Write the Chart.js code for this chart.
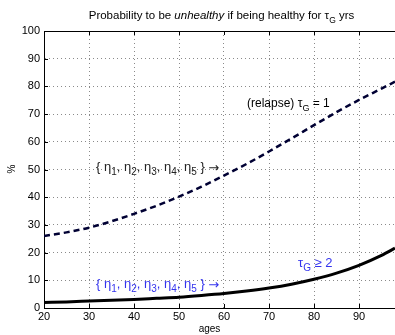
<!DOCTYPE html>
<html>
<head>
<meta charset="utf-8">
<script src="https://cdn.jsdelivr.net/npm/chart.js@4"></script>
<style>
  html, body { margin: 0; padding: 0; background: #fff; }
  #wrap { width: 395px; height: 335px; }
</style>
</head>
<body>
<div id="wrap"><canvas id="chart" width="395" height="335"></canvas></div>
<script>
// ages and the two curves
const ages = [20, 25, 30, 35, 40, 45, 50, 55, 60, 65, 70, 75, 80, 85, 90, 95, 98];
const relapse = [26, 27.3, 29, 31.3, 34, 36.9, 40.2, 43.8, 47.8, 52, 56.5, 61.2, 66, 70.7, 75.1, 79.2, 81.7];
const healthy = [2.0, 2.2, 2.5, 2.8, 3.1, 3.5, 3.9, 4.5, 5.2, 6.1, 7.2, 8.6, 10.4, 12.6, 15.4, 19.0, 21.6];
const xTicks = [20, 30, 40, 50, 60, 70, 80, 90];
const yTicks = [0, 10, 20, 30, 40, 50, 60, 70, 80, 90, 100];

const FONT = 'Liberation Sans, Arial, sans-serif';

function pts(xs, ys) {
    let out = [];
    for (let i = 0; i < xs.length; i++) {
        out.push({ x: xs[i], y: ys[i] });
    }
    return out;
}

// draws text pieces in a row, some with subscript
function drawRich(ctx, parts, x, y, align) {
    let total = 0;
    parts.forEach(p => {
        ctx.font = p.font;
        p.w = ctx.measureText(p.t).width;
        total += p.w;
    });
    let cx = align === 'center' ? x - total / 2 : x;
    parts.forEach(p => {
        ctx.font = p.font;
        ctx.fillStyle = p.color;
        ctx.textAlign = 'left';
        ctx.textBaseline = 'alphabetic';
        ctx.fillText(p.t, cx, y + (p.dy || 0));
        cx += p.w;
    });
}

function etaParts(color) {
    const f = '13px ' + FONT, s = '10px ' + FONT;
    let parts = [{ t: '{ ', font: f, color: color }];
    for (let i = 1; i <= 5; i++) {
        parts.push({ t: 'η', font: f, color: color });
        parts.push({ t: String(i), font: s, color: color, dy: 4 });
        parts.push({ t: i < 5 ? ', ' : ' } ', font: f, color: color });
    }
    parts.push({ t: '→', font: '13px DejaVu Sans', color: color, dy: 1 });
    return parts;
}

const extras = {
    id: 'extras',
    afterDraw(chart) {
        const ctx = chart.ctx;
        const a = chart.chartArea;
        const xs = chart.scales.x, ys = chart.scales.y;
        ctx.save();
        // box and inward ticks
        ctx.strokeStyle = '#000';
        ctx.lineWidth = 1;
        ctx.beginPath();
        ctx.moveTo(a.left, a.top + 0.5);
        ctx.lineTo(a.right, a.top + 0.5);
        xTicks.forEach(v => {
            const px = Math.round(xs.getPixelForValue(v)) + 0.5;
            ctx.moveTo(px, a.bottom);
            ctx.lineTo(px, a.bottom - 4);
            ctx.moveTo(px, a.top);
            ctx.lineTo(px, a.top + 4);
        });
        yTicks.forEach(v => {
            const py = Math.round(ys.getPixelForValue(v)) + 0.5;
            ctx.moveTo(a.left, py);
            ctx.lineTo(a.left + 4, py);
        });
        ctx.stroke();

        // title
        const f = '11.5px ' + FONT;
        drawRich(ctx, [
            { t: 'Probability to be ', font: f, color: '#000' },
            { t: 'unhealthy', font: 'italic ' + f, color: '#000' },
            { t: ' if being healthy for τ', font: f, color: '#000' },
            { t: 'G', font: '8.5px ' + FONT, color: '#000', dy: 4 },
            { t: ' yrs', font: f, color: '#000' }
        ], (a.left + a.right) / 2 + 2, 19, 'center');

        // curve labels
        drawRich(ctx, [
            { t: '(relapse) τ', font: '12px ' + FONT, color: '#000' },
            { t: 'G', font: '9px ' + FONT, color: '#000', dy: 4 },
            { t: ' = 1', font: '12px ' + FONT, color: '#000' }
        ], 247, 107, 'left');
        drawRich(ctx, etaParts('#222'), 96, 171, 'left');
        drawRich(ctx, etaParts('#3333ee'), 96, 288, 'left');
        drawRich(ctx, [
            { t: 'τ', font: '13px ' + FONT, color: '#3333ee' },
            { t: 'G', font: '10px ' + FONT, color: '#3333ee', dy: 4 },
            { t: ' ≥ 2', font: '13px ' + FONT, color: '#3333ee' }
        ], 298, 267, 'left');

        // axis titles
        ctx.fillStyle = '#000';
        ctx.font = '10px ' + FONT;
        ctx.textAlign = 'center';
        ctx.textBaseline = 'middle';
        ctx.fillText('ages', (a.left + a.right) / 2 - 10, 329);
        ctx.translate(12, 169);
        ctx.rotate(-Math.PI / 2);
        ctx.fillText('%', 0, 0);
        ctx.restore();
    }
};

const config = {
    type: 'line',
    data: {
        datasets: [{
            label: 'relapse',
            data: pts(ages, relapse),
            borderColor: '#000033',
            borderWidth: 2.5,
            borderDash: [6, 4],
            pointRadius: 0,
            cubicInterpolationMode: 'monotone',
            fill: false
        }, {
            label: 'healthy',
            data: pts(ages, healthy),
            borderColor: '#000000',
            borderWidth: 3,
            pointRadius: 0,
            cubicInterpolationMode: 'monotone',
            fill: false
        }]
    },
    options: {
        responsive: false,
        animation: false,
        layout: { padding: { top: 31, right: 0, left: 0, bottom: 0 } },
        plugins: {
            legend: { display: false },
            tooltip: { enabled: false }
        },
        scales: {
            x: {
                type: 'linear',
                min: 20,
                max: 98,
                grid: { color: '#8a8a8a', lineWidth: 1, drawTicks: false },
                border: { display: true, color: '#000', width: 1, dash: [1, 3] },
                ticks: {
                    padding: 2,
                    color: '#000',
                    font: { family: FONT, size: 11 },
                    maxRotation: 0,
                    autoSkip: false
                },
                afterBuildTicks: function (scale) {
                    scale.ticks = xTicks.map(v => ({ value: v }));
                },
                afterFit: function (scale) { scale.height = 335 - 308; }
            },
            y: {
                min: 0,
                max: 100,
                grid: { color: '#8a8a8a', lineWidth: 1, drawTicks: false },
                border: { display: true, color: '#000', width: 1, dash: [1, 3] },
                ticks: {
                    padding: 4,
                    color: '#000',
                    font: { family: FONT, size: 11 }
                },
                afterBuildTicks: function (scale) {
                    scale.ticks = yTicks.map(v => ({ value: v }));
                },
                afterFit: function (scale) { scale.width = 44; }
            }
        }
    },
    plugins: [extras]
};

var myChart = new Chart(document.getElementById('chart'), config);
</script>
</body>
</html>
